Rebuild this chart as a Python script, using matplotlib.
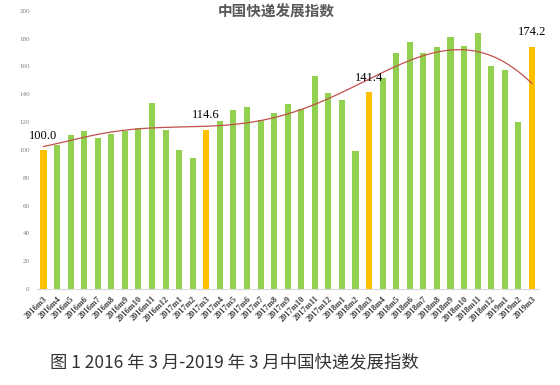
import numpy as np
import matplotlib
matplotlib.use('Agg')
import matplotlib.pyplot as plt

# monthly labels 2016m3 .. 2019m3
months = []
for y in (2016, 2017, 2018, 2019):
    for m in range(1, 13):
        if (y == 2016 and m < 3) or (y == 2019 and m > 3):
            continue
        months.append('%dm%d' % (y, m))

values = [100.0, 103.3, 110.7, 113.5, 108.7, 111.4, 113.8, 115.7, 133.7, 114.3,
          100.1, 94.1, 114.6, 120.7, 128.4, 131.0, 121.5, 126.8, 132.7, 129.1,
          152.8, 140.6, 136.0, 99.0, 141.4, 151.4, 169.8, 177.3, 169.3, 173.9,
          180.9, 174.6, 184.2, 160.5, 157.6, 120.0, 174.2]
highlight = ['2016m3', '2017m3', '2018m3', '2019m3']

title = '中国快递发展指数'
caption = '图 1 2016 年 3 月-2019 年 3 月中国快递发展指数'

green = '#92d050'
orange = '#ffc000'
trend_color = '#c0504d'

fig = plt.figure(figsize=(5.6, 3.85), dpi=100)
ax = fig.add_axes([0.0655, 0.249, 0.8965, 0.7232])

x = np.arange(len(months))
colors = [orange if m in highlight else green for m in months]
ax.bar(x, values, width=0.45, color=colors, zorder=2)

# polynomial trend line like the Excel one
coef = np.polyfit(x, values, 6)
xs = np.linspace(0, len(months) - 1, 300)
ax.plot(xs, np.polyval(coef, xs), color=trend_color, lw=0.9, zorder=3)

for i, m in enumerate(months):
    if m in highlight:
        ax.annotate('%.1f' % values[i], (i, values[i]), xytext=(0, 6),
                    textcoords='offset points', ha='center', va='bottom',
                    fontsize=9, family='Liberation Serif', color='black')

ax.set_xlim(-0.5, len(months) - 0.5)
ax.set_ylim(0, 200)
ax.set_yticks(range(0, 201, 20))
ax.set_xticks(x)
ax.set_xticklabels(months, rotation=45, ha='right', rotation_mode='anchor',
                   fontsize=6, family='Liberation Serif', fontweight='bold',
                   color='#404040')
ax.tick_params(axis='y', length=0, labelsize=5, labelcolor='#808080', pad=5)
ax.tick_params(axis='x', length=0, pad=4)
for lbl in ax.get_yticklabels():
    lbl.set_family('Liberation Serif')
for s in ('left', 'right', 'top'):
    ax.spines[s].set_visible(False)
ax.spines['bottom'].set_color('#d9d9d9')

fig.text(0.494, 0.969, title, ha='center', va='center', fontsize=10.5,
         fontweight='bold', color='#595959', family='Noto Sans CJK SC')
fig.text(0.089, 0.06, caption, ha='left', va='center', fontsize=12.5,
         color='#333333', family=['Noto Sans CJK SC', 'DejaVu Sans'])

fig.savefig('out.png', dpi=100)
